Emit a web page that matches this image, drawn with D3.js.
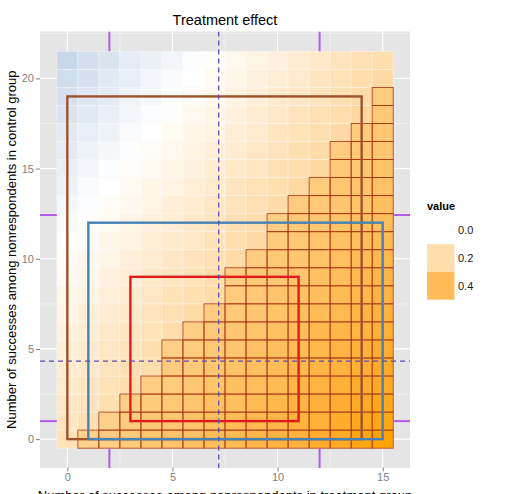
<!DOCTYPE html>
<html><head><meta charset="utf-8">
<script src="https://cdn.jsdelivr.net/npm/d3@7"></script>
<style>body{margin:0;background:#fff}svg{display:block;font-family:"Liberation Sans",Arial,sans-serif}</style>
</head><body>
<svg id="c" width="515" height="494"></svg>
<script>
// ---- data ----
const xVals = [0,1,2,3,4,5,6,7,8,9,10,11,12,13,14,15];
const yVals = [0,1,2,3,4,5,6,7,8,9,10,11,12,13,14,15,16,17,18,19,20,21];
// effect[y][x]
const effect = [
 [0.17,0.19,0.22,0.24,0.27,0.29,0.31,0.34,0.36,0.39,0.41,0.43,0.46,0.48,0.51,0.53],
 [0.15,0.18,0.20,0.23,0.25,0.27,0.30,0.32,0.35,0.37,0.39,0.42,0.44,0.47,0.49,0.51],
 [0.14,0.16,0.19,0.21,0.24,0.26,0.28,0.31,0.33,0.36,0.38,0.40,0.43,0.45,0.48,0.50],
 [0.12,0.15,0.17,0.20,0.22,0.24,0.27,0.29,0.32,0.34,0.36,0.39,0.41,0.44,0.46,0.48],
 [0.11,0.13,0.16,0.18,0.20,0.23,0.25,0.28,0.30,0.32,0.35,0.37,0.40,0.42,0.44,0.47],
 [0.09,0.12,0.14,0.16,0.19,0.21,0.24,0.26,0.28,0.31,0.33,0.36,0.38,0.40,0.43,0.45],
 [0.08,0.10,0.13,0.15,0.17,0.20,0.22,0.25,0.27,0.29,0.32,0.34,0.37,0.39,0.41,0.44],
 [0.06,0.09,0.11,0.13,0.16,0.18,0.21,0.23,0.25,0.28,0.30,0.33,0.35,0.37,0.40,0.42],
 [0.05,0.07,0.09,0.12,0.14,0.17,0.19,0.21,0.24,0.26,0.29,0.31,0.33,0.36,0.38,0.41],
 [0.03,0.05,0.08,0.10,0.13,0.15,0.17,0.20,0.22,0.25,0.27,0.29,0.32,0.34,0.37,0.39],
 [0.02,0.04,0.06,0.09,0.11,0.14,0.16,0.18,0.21,0.23,0.26,0.28,0.30,0.33,0.35,0.38],
 [0.00,0.02,0.05,0.07,0.10,0.12,0.14,0.17,0.19,0.22,0.24,0.26,0.29,0.31,0.34,0.36],
 [-0.02,0.01,0.03,0.06,0.08,0.10,0.13,0.15,0.18,0.20,0.22,0.25,0.27,0.30,0.32,0.34],
 [-0.03,-0.01,0.02,0.04,0.06,0.09,0.11,0.14,0.16,0.18,0.21,0.23,0.26,0.28,0.30,0.33],
 [-0.05,-0.02,0.00,0.03,0.05,0.07,0.10,0.12,0.15,0.17,0.19,0.22,0.24,0.27,0.29,0.31],
 [-0.06,-0.04,-0.01,0.01,0.03,0.06,0.08,0.11,0.13,0.15,0.18,0.20,0.23,0.25,0.27,0.30],
 [-0.08,-0.05,-0.03,-0.01,0.02,0.04,0.07,0.09,0.11,0.14,0.16,0.19,0.21,0.23,0.26,0.28],
 [-0.09,-0.07,-0.05,-0.02,0.00,0.03,0.05,0.07,0.10,0.12,0.15,0.17,0.19,0.22,0.24,0.27],
 [-0.11,-0.09,-0.06,-0.04,-0.01,0.01,0.04,0.06,0.08,0.11,0.13,0.16,0.18,0.20,0.23,0.25],
 [-0.12,-0.10,-0.08,-0.05,-0.03,0.00,0.02,0.04,0.07,0.09,0.12,0.14,0.16,0.19,0.21,0.24],
 [-0.14,-0.12,-0.09,-0.07,-0.04,-0.02,0.00,0.03,0.05,0.08,0.10,0.12,0.15,0.17,0.20,0.22],
 [-0.16,-0.13,-0.11,-0.08,-0.06,-0.04,-0.01,0.01,0.04,0.06,0.08,0.11,0.13,0.16,0.18,0.20]
];
// highest outlined row per column (-1 = none)
const outlinedTop = [-1,0,1,2,3,5,6,7,9,10,12,13,14,16,17,19];
const boxNames = ["brown","blue","red"];
const boxX0 = [0,1,3];
const boxY0 = [0,0,1];
const boxX1 = [14,15,11];
const boxY1 = [19,12,9];
const vLineX = 7.2;
const hLineY = 4.32;
const rugX = [2,12];
const rugY = [1,12.43];
const xTicks = [0,5,10,15];
const yTicks = [0,5,10,15,20];
const legendValues = [0.0,0.2,0.4];
const titleText = "Treatment effect";
const xLabel = "Number of successes among nonrespondents in treatment group";
const yLabel = "Number of successes among nonrespondents in control group";
const legendTitle = "value";

// ---- layout ----
const svg = d3.select("#c");
const P = {l:40, r:410, t:31.5, b:468};
const x = d3.scaleLinear([-1.3,16.3],[P.l,P.r]);
const y = d3.scaleLinear([-1.6,22.6],[P.b,P.t]);
const boxColors = {brown:"#a0522d", blue:"#4682b4", red:"#e31a1c"};
const fill = d3.scaleLinear().domain([-0.53,0,0.53]).range(["steelblue","white","orange"]).interpolate(d3.interpolateLab);

svg.append("rect").attr("x",P.l).attr("y",P.t).attr("width",P.r-P.l).attr("height",P.b-P.t).attr("fill","#e5e5e5");
svg.append("clipPath").attr("id","pc").append("rect").attr("x",P.l).attr("y",P.t).attr("width",P.r-P.l).attr("height",P.b-P.t);
const g = svg.append("g").attr("clip-path","url(#pc)");
// grid
const xMinor=[2.5,7.5,12.5], yMinor=[2.5,7.5,12.5,17.5,22.5];
g.selectAll(".xm").data(xMinor).join("line").attr("x1",d=>x(d)).attr("x2",d=>x(d)).attr("y1",P.t).attr("y2",P.b).attr("stroke","#f2f2f2").attr("stroke-width",0.8);
g.selectAll(".ym").data(yMinor).join("line").attr("y1",d=>y(d)).attr("y2",d=>y(d)).attr("x1",P.l).attr("x2",P.r).attr("stroke","#f2f2f2").attr("stroke-width",0.8);
g.selectAll(".xM").data(xTicks).join("line").attr("x1",d=>x(d)).attr("x2",d=>x(d)).attr("y1",P.t).attr("y2",P.b).attr("stroke","#fff").attr("stroke-width",1.2);
g.selectAll(".yM").data(yTicks).join("line").attr("y1",d=>y(d)).attr("y2",d=>y(d)).attr("x1",P.l).attr("x2",P.r).attr("stroke","#fff").attr("stroke-width",1.2);

// tiles
const cells=[];
yVals.forEach((yy,i)=>xVals.forEach((xx,j)=>cells.push({x:xx,y:yy,v:effect[i][j]})));
g.selectAll(".tile").data(cells).join("rect")
 .attr("x",d=>x(d.x-0.5)).attr("y",d=>y(d.y+0.5))
 .attr("width",d=>x(d.x+0.5)-x(d.x-0.5)).attr("height",d=>y(d.y-0.5)-y(d.y+0.5))
 .attr("fill",d=>fill(d.v)).attr("stroke","#fff").attr("stroke-opacity",0.45).attr("stroke-width",0.7);
// outlined tiles
const outl = cells.filter(d=>d.y<=outlinedTop[d.x]);
g.selectAll(".ot").data(outl).join("rect")
 .attr("x",d=>x(d.x-0.5)).attr("y",d=>y(d.y+0.5))
 .attr("width",d=>x(d.x+0.5)-x(d.x-0.5)).attr("height",d=>y(d.y-0.5)-y(d.y+0.5))
 .attr("fill","#ffa000").attr("fill-opacity",0.2).attr("stroke","#a8320c").attr("stroke-width",0.8);

// rug segments
const yTop=21.5,yBot=-0.5,xLeft=-0.5,xRight=15.5;
const purple="#b05ce8";
rugX.forEach(v=>{
  g.append("line").attr("x1",x(v)).attr("x2",x(v)).attr("y1",y(yTop)).attr("y2",P.t).attr("stroke",purple).attr("stroke-width",2);
  g.append("line").attr("x1",x(v)).attr("x2",x(v)).attr("y1",y(yBot)).attr("y2",P.b).attr("stroke",purple).attr("stroke-width",2);
});
rugY.forEach(v=>{
  g.append("line").attr("y1",y(v)).attr("y2",y(v)).attr("x1",P.l).attr("x2",x(xLeft)).attr("stroke",purple).attr("stroke-width",2);
  g.append("line").attr("y1",y(v)).attr("y2",y(v)).attr("x1",x(xRight)).attr("x2",P.r).attr("stroke",purple).attr("stroke-width",2);
});

// boxes
boxNames.forEach((n,i)=>{
  g.append("rect").attr("x",x(boxX0[i])).attr("y",y(boxY1[i]))
   .attr("width",x(boxX1[i])-x(boxX0[i])).attr("height",y(boxY0[i])-y(boxY1[i]))
   .attr("fill","none").attr("stroke",boxColors[n]).attr("stroke-width",2.4);
});

// dashed lines
const dashC="#5a4fb0";
g.append("line").attr("x1",x(vLineX)).attr("x2",x(vLineX)).attr("y1",P.t).attr("y2",P.b).attr("stroke",dashC).attr("stroke-width",1.3).attr("stroke-dasharray","5,4");
g.append("line").attr("y1",y(hLineY)).attr("y2",y(hLineY)).attr("x1",P.l).attr("x2",P.r).attr("stroke",dashC).attr("stroke-width",1.3).attr("stroke-dasharray","5,4");

// axes
const ax = svg.append("g").attr("transform",`translate(0,${P.b})`).call(d3.axisBottom(x).tickValues(xTicks).tickSize(4).tickPadding(2).tickFormat(d3.format("d")));
const ay = svg.append("g").attr("transform",`translate(${P.l},0)`).call(d3.axisLeft(y).tickValues(yTicks).tickSize(4).tickPadding(2).tickFormat(d3.format("d")));
[ax,ay].forEach(a=>{a.select(".domain").remove();a.selectAll("line").attr("stroke","#7f7f7f");a.selectAll("text").attr("fill","#7f7f7f").style("font-size","11px").style("font-family","Liberation Sans, Arial, sans-serif");});
ax.attr("transform",`translate(0,${P.b-0.5})`);

// titles
svg.append("text").attr("x",(P.l+P.r)/2).attr("y",25).attr("text-anchor","middle").style("font-size","14.5px").attr("fill","#000").text(titleText);
svg.append("text").attr("x",(P.l+P.r)/2).attr("y",500).attr("text-anchor","middle").style("font-size","13px").attr("fill","#000").text(xLabel);
svg.append("text").attr("transform",`translate(16,${(P.t+P.b)/2}) rotate(-90)`).attr("text-anchor","middle").style("font-size","13px").attr("fill","#000").text(yLabel);

// legend
svg.append("text").attr("x",427).attr("y",210).style("font-size","11px").style("font-weight","bold").text(legendTitle);
const kY0=216.5, kH=27.7;
legendValues.forEach((v,i)=>{
  svg.append("rect").attr("x",427).attr("y",kY0+i*kH).attr("width",27.5).attr("height",kH).attr("fill",fill(v));
  svg.append("text").attr("x",458).attr("y",kY0+i*kH+kH/2+4).style("font-size","11px").attr("fill","#1a1a1a").text(d3.format(".1f")(v));
});
</script>
</body></html>
